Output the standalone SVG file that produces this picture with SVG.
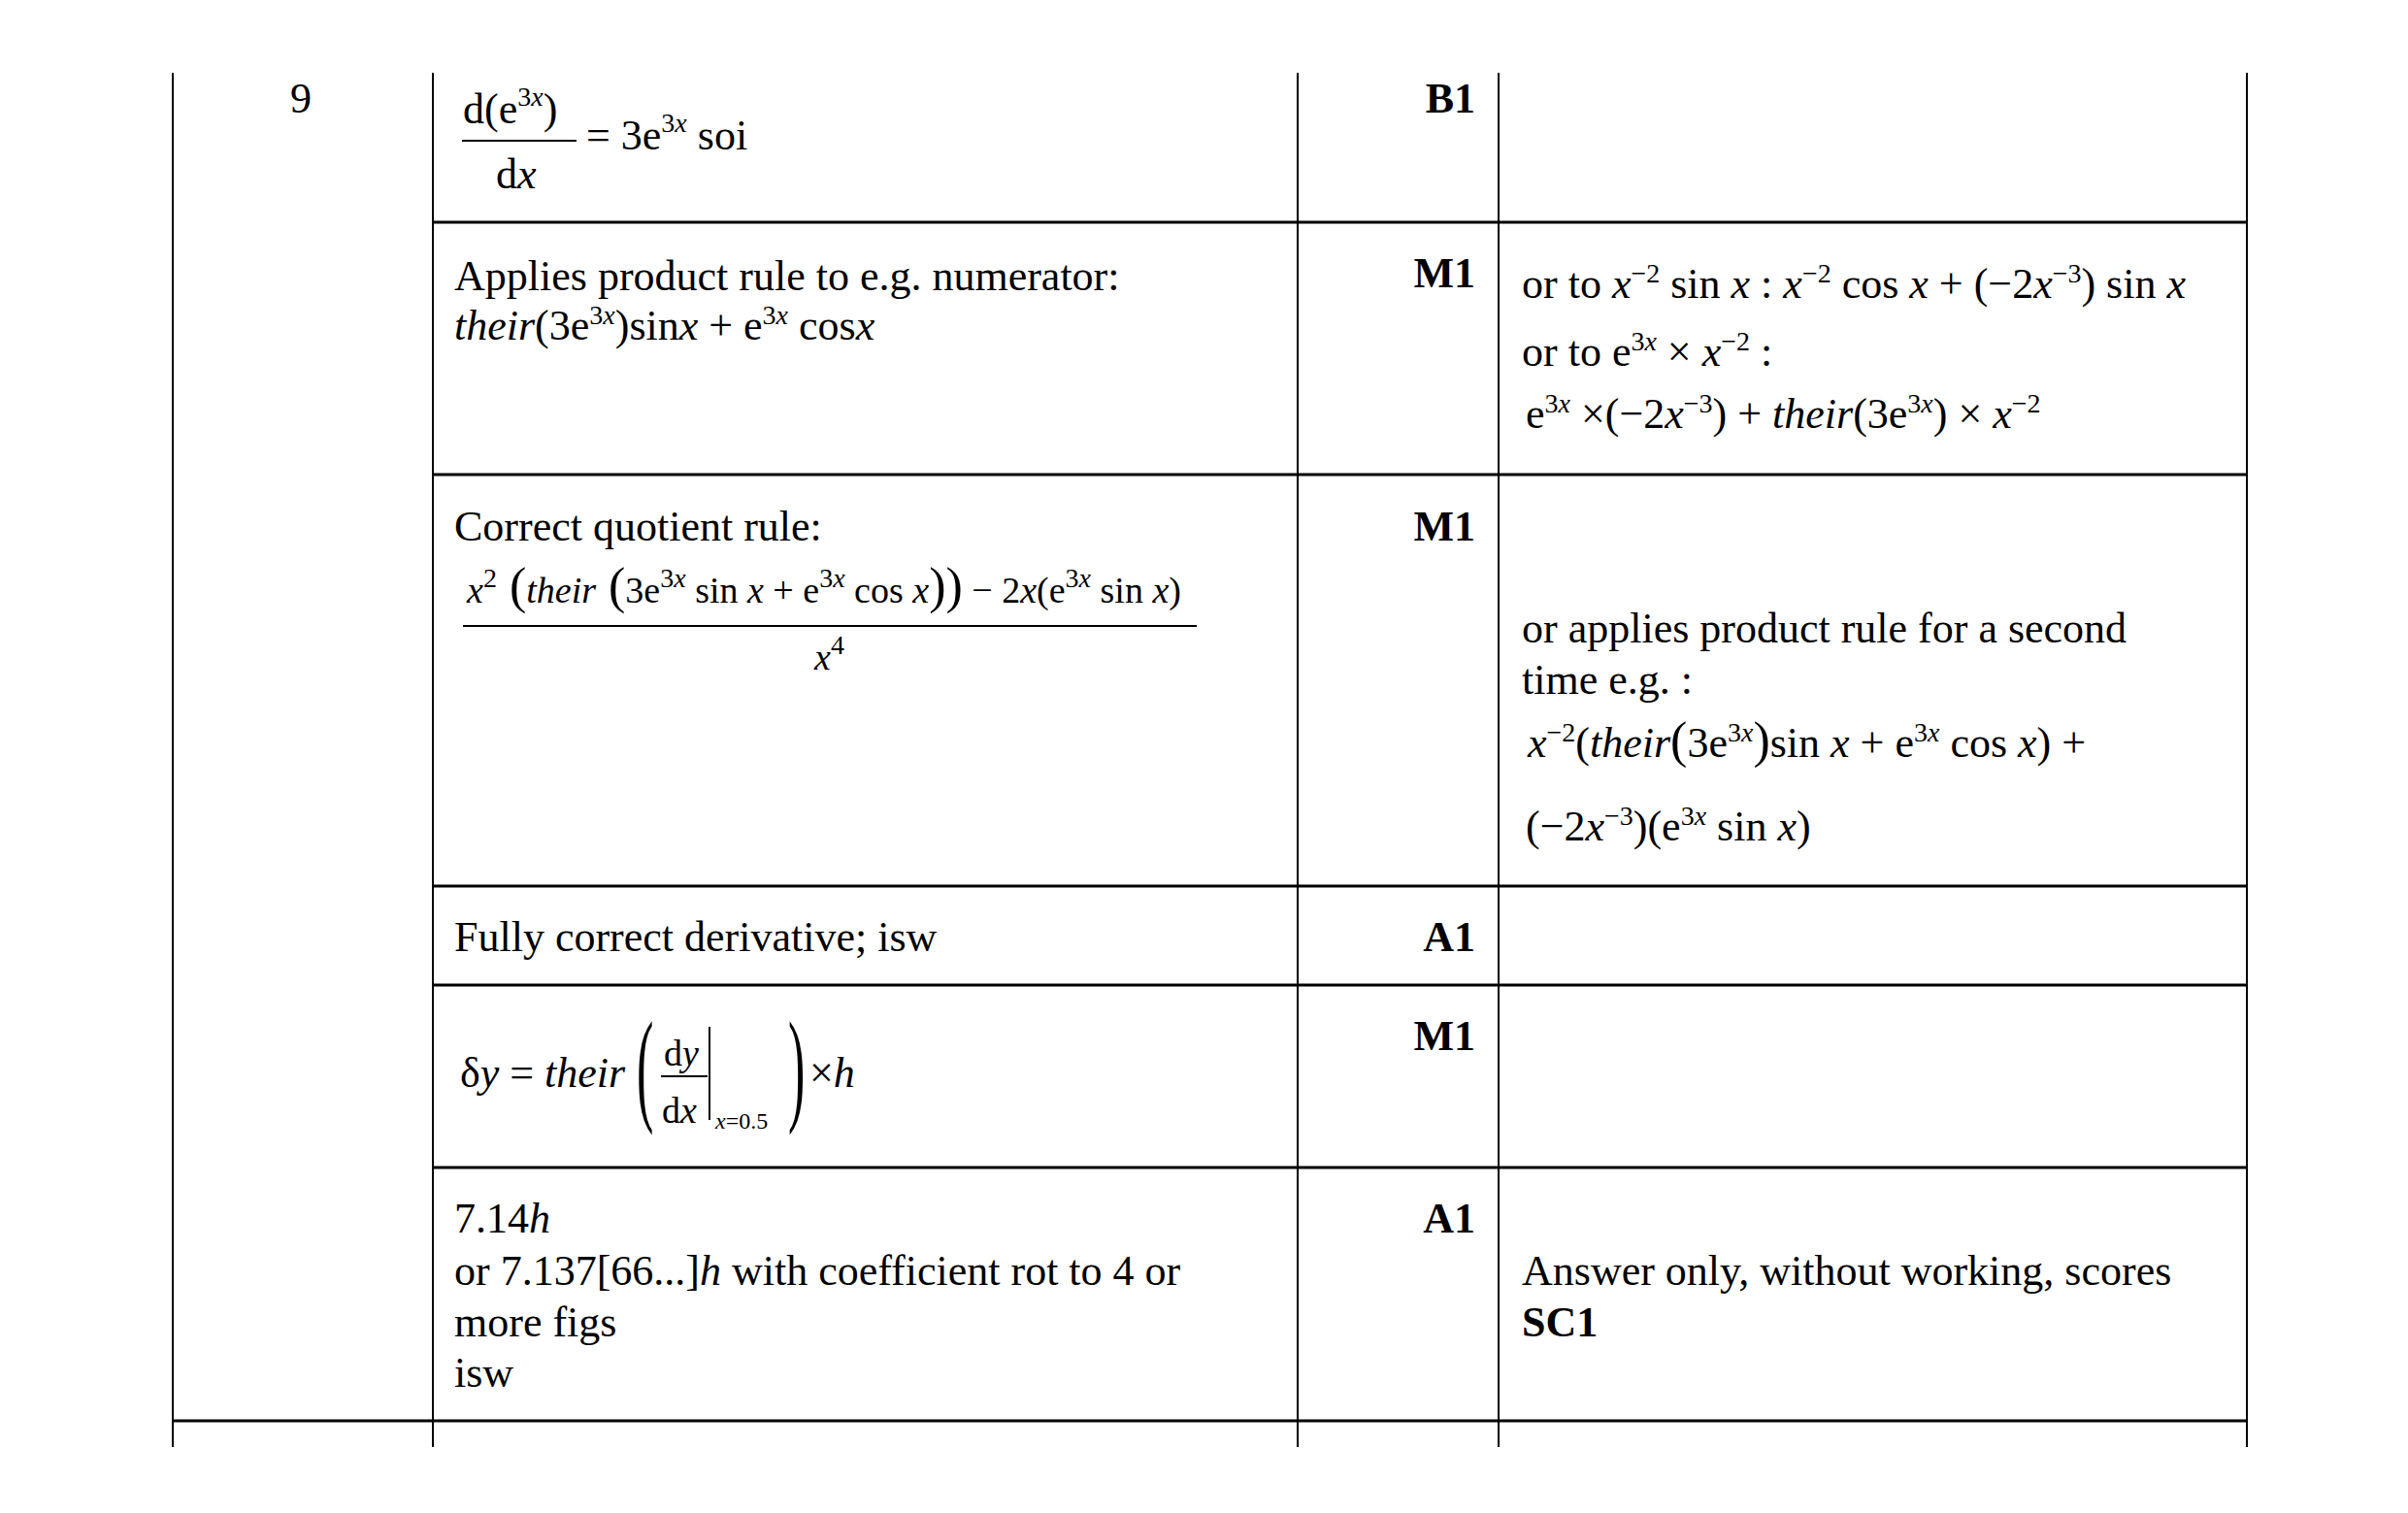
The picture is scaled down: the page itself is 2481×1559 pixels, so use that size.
<svg xmlns="http://www.w3.org/2000/svg" width="2481" height="1559" viewBox="0 0 2481 1559">
<style>
text{font-family:"Liberation Serif","Times New Roman",serif;font-size:44px;fill:#000}
.b{font-weight:bold}
.i{font-style:italic}
.s{font-size:28px}
.m{font-size:38px}
.p{font-size:52px}
line{stroke:#000;stroke-width:2}
.h{stroke-width:3}
</style>
<rect width="2481" height="1559" fill="#fff"/>
<g id="grid">
<line x1="178" y1="75" x2="178" y2="1491"/>
<line x1="446" y1="75" x2="446" y2="1491"/>
<line x1="1337" y1="75" x2="1337" y2="1491"/>
<line x1="1544" y1="75" x2="1544" y2="1491"/>
<line x1="2315" y1="75" x2="2315" y2="1491"/>
<line class="h" x1="446" y1="229" x2="2315" y2="229"/>
<line class="h" x1="446" y1="489" x2="2315" y2="489"/>
<line class="h" x1="446" y1="913" x2="2315" y2="913"/>
<line class="h" x1="446" y1="1015" x2="2315" y2="1015"/>
<line class="h" x1="446" y1="1203" x2="2315" y2="1203"/>
<line class="h" x1="178" y1="1464" x2="2315" y2="1464"/>
</g>
<g id="row1">
<text x="299" y="116">9</text>
<text x="477" y="127">d(e<tspan class="s" dy="-18">3<tspan class="i">x</tspan></tspan><tspan dy="18">)</tspan></text>
<line x1="476" y1="145" x2="594" y2="145"/>
<text x="511" y="194">d<tspan class="i">x</tspan></text>
<text x="604" y="154">= 3e<tspan class="s" dy="-18">3<tspan class="i">x</tspan></tspan><tspan dy="18">  soi</tspan></text>
<text x="1520" y="116" class="b" text-anchor="end">B1</text>
</g>
<g id="row2">
<text x="468" y="299">Applies product rule to e.g. numerator:</text>
<text x="468" y="350"><tspan class="i">their</tspan>(3e<tspan class="s" dy="-16">3<tspan class="i">x</tspan></tspan><tspan dy="16">)sin</tspan><tspan class="i">x</tspan> + e<tspan class="s" dy="-16">3<tspan class="i">x</tspan></tspan><tspan dy="16"> cos</tspan><tspan class="i">x</tspan></text>
<text x="1520" y="296" class="b" text-anchor="end">M1</text>
<text x="1568" y="307">or to <tspan class="i">x</tspan><tspan class="s" dy="-16">−2</tspan><tspan dy="16"> sin </tspan><tspan class="i">x</tspan>  : <tspan class="i">x</tspan><tspan class="s" dy="-16">−2</tspan><tspan dy="16"> cos </tspan><tspan class="i">x</tspan> + (−2<tspan class="i">x</tspan><tspan class="s" dy="-16">−3</tspan><tspan dy="16">) sin </tspan><tspan class="i">x</tspan></text>
<text x="1568" y="377">or to  e<tspan class="s" dy="-16">3<tspan class="i">x</tspan></tspan><tspan dy="16"> × </tspan><tspan class="i">x</tspan><tspan class="s" dy="-16">−2</tspan><tspan dy="16"> :</tspan></text>
<text x="1572" y="441">e<tspan class="s" dy="-16">3<tspan class="i">x</tspan></tspan><tspan dy="16"> ×(−2</tspan><tspan class="i">x</tspan><tspan class="s" dy="-16">−3</tspan><tspan dy="16">) + </tspan><tspan class="i">their</tspan>(3e<tspan class="s" dy="-16">3<tspan class="i">x</tspan></tspan><tspan dy="16">) × </tspan><tspan class="i">x</tspan><tspan class="s" dy="-16">−2</tspan></text>
</g>
<g id="row3">
<text x="468" y="557">Correct quotient rule:</text>
<text x="481" y="621" class="m"><tspan class="i">x</tspan><tspan class="s" dy="-16">2</tspan><tspan dy="16" class="p"> (</tspan><tspan class="i">their</tspan><tspan class="p"> (</tspan>3e<tspan class="s" dy="-16">3<tspan class="i">x</tspan></tspan><tspan dy="16"> sin </tspan><tspan class="i">x</tspan> +  e<tspan class="s" dy="-16">3<tspan class="i">x</tspan></tspan><tspan dy="16"> cos </tspan><tspan class="i">x</tspan><tspan class="p">))</tspan> − 2<tspan class="i">x</tspan>(e<tspan class="s" dy="-16">3<tspan class="i">x</tspan></tspan><tspan dy="16"> sin </tspan><tspan class="i">x</tspan>)</text>
<line x1="477" y1="645" x2="1233" y2="645"/>
<text x="839" y="690" class="m"><tspan class="i">x</tspan><tspan class="s" dy="-16">4</tspan></text>
<text x="1520" y="557" class="b" text-anchor="end">M1</text>
<text x="1568" y="662">or applies product rule for a second</text>
<text x="1568" y="715">time e.g. :</text>
<text x="1574" y="780"><tspan class="i">x</tspan><tspan class="s" dy="-16">−2</tspan><tspan dy="16">(</tspan><tspan class="i">their</tspan><tspan class="p">(</tspan>3e<tspan class="s" dy="-16">3<tspan class="i">x</tspan></tspan><tspan dy="16" class="p">)</tspan>sin <tspan class="i">x</tspan> + e<tspan class="s" dy="-16">3<tspan class="i">x</tspan></tspan><tspan dy="16"> cos </tspan><tspan class="i">x</tspan>) +</text>
<text x="1572" y="866">(−2<tspan class="i">x</tspan><tspan class="s" dy="-16">−3</tspan><tspan dy="16">)(e</tspan><tspan class="s" dy="-16">3<tspan class="i">x</tspan></tspan><tspan dy="16"> sin </tspan><tspan class="i">x</tspan>)</text>
</g>
<g id="row4">
<text x="468" y="980">Fully correct derivative; isw</text>
<text x="1520" y="980" class="b" text-anchor="end">A1</text>
</g>
<g id="row5">
<text x="474" y="1120">δ<tspan class="i">y</tspan> = <tspan class="i">their</tspan></text>
<text x="656" y="1142" style="font-size:130px" transform="translate(656 1142) scale(0.4 1) translate(-656 -1142)">(</text>
<text x="684" y="1098" class="m">d<tspan class="i">y</tspan></text>
<line x1="681" y1="1109" x2="729" y2="1109"/>
<text x="682" y="1157" class="m">d<tspan class="i">x</tspan></text>
<line x1="731" y1="1058" x2="731" y2="1154"/>
<text x="737" y="1163" style="font-size:24px"><tspan class="i">x</tspan>=0.5</text>
<text x="812" y="1142" style="font-size:130px" transform="translate(812 1142) scale(0.4 1) translate(-812 -1142)">)</text>
<text x="834" y="1120">×<tspan class="i">h</tspan></text>
<text x="1520" y="1082" class="b" text-anchor="end">M1</text>
</g>
<g id="row6">
<text x="468" y="1270">7.14<tspan class="i">h</tspan></text>
<text x="468" y="1324">or 7.137[66...]<tspan class="i">h</tspan> with coefficient rot to 4 or</text>
<text x="468" y="1377">more figs</text>
<text x="468" y="1429">isw</text>
<text x="1520" y="1270" class="b" text-anchor="end">A1</text>
<text x="1568" y="1324">Answer only, without working, scores</text>
<text x="1568" y="1377" class="b">SC1</text>
</g>
</svg>
